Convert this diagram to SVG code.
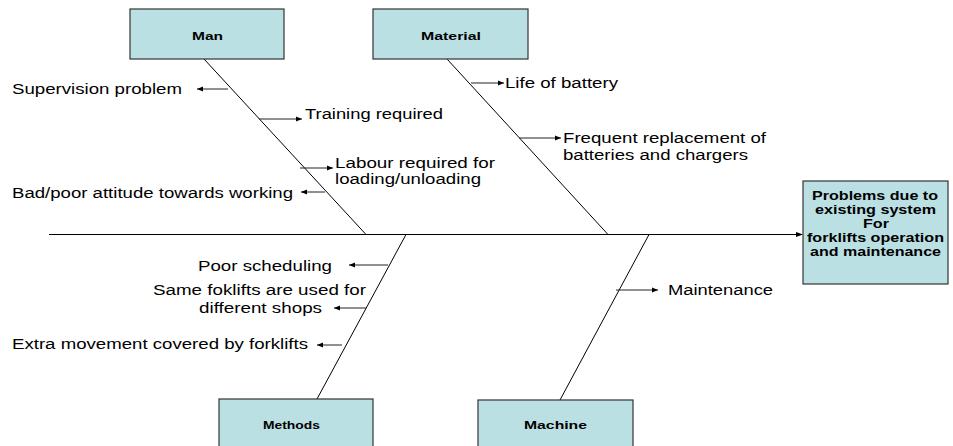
<svg xmlns="http://www.w3.org/2000/svg" width="953" height="446" viewBox="0 0 953 446">
  <style>
    .box { fill: #bbe0e3; stroke: #333333; stroke-width: 1.2; }
    .head { font-family: "Liberation Sans", Arial, sans-serif; font-weight: bold; font-size: 11px; fill: #000; }
    .effect { font-family: "Liberation Sans", Arial, sans-serif; font-weight: bold; font-size: 12px; fill: #000; }
    .cause { font-family: "Liberation Sans", Arial, sans-serif; font-size: 14px; fill: #000; }
    .bone { stroke: #000; stroke-width: 1; fill: none; }
    .rib { stroke: #222; stroke-width: 1; fill: none; marker-end: url(#arrow); }
  </style>
  <defs>
    <marker id="arrow" markerUnits="userSpaceOnUse" markerWidth="8" markerHeight="6" refX="6" refY="3" orient="auto">
      <path d="M0,0.5 L6,3 L0,5.5 Z" fill="#000"/>
    </marker>
  </defs>
  <rect width="953" height="446" fill="#fff"/>

  <!-- main spine, bones and cause arrows -->
  <g id="connectors">
    <line class="bone" x1="49" y1="234.5" x2="796" y2="234.5"/>
    <path d="M796,232 L803,234.5 L796,237 Z" fill="#000"/>
    <line class="bone" x1="204" y1="59" x2="366" y2="234.5"/>
    <line class="bone" x1="447" y1="59" x2="608" y2="234.5"/>
    <line class="bone" x1="406" y1="234.5" x2="317" y2="399"/>
    <line class="bone" x1="649" y1="234.5" x2="560" y2="400"/>

    <line class="rib" x1="228" y1="89" x2="197" y2="89"/>
    <line class="rib" x1="259" y1="119" x2="302" y2="119"/>
    <line class="rib" x1="300" y1="168" x2="333" y2="168"/>
    <line class="rib" x1="325" y1="192" x2="301" y2="192"/>
    <line class="rib" x1="471" y1="83" x2="504" y2="83"/>
    <line class="rib" x1="519" y1="138" x2="561" y2="138"/>
    <line class="rib" x1="388" y1="265" x2="349" y2="265"/>
    <line class="rib" x1="366" y1="308" x2="334" y2="308"/>
    <line class="rib" x1="342" y1="345" x2="317" y2="345"/>
    <line class="rib" x1="616" y1="290" x2="658" y2="290"/>
  </g>

  <g id="man">
    <rect class="box" x="130" y="9" width="154" height="50"/>
    <text class="head" x="192" y="39.5" textLength="31" lengthAdjust="spacingAndGlyphs">Man</text>
  </g>
  <g id="material">
    <rect class="box" x="373" y="9" width="155" height="50"/>
    <text class="head" x="421" y="39.5" textLength="60" lengthAdjust="spacingAndGlyphs">Material</text>
  </g>
  <g id="methods">
    <rect class="box" x="219" y="399" width="154" height="50"/>
    <text class="head" x="263" y="429" textLength="57" lengthAdjust="spacingAndGlyphs">Methods</text>
  </g>
  <g id="machine">
    <rect class="box" x="478" y="400" width="155" height="50"/>
    <text class="head" x="524" y="429" textLength="63" lengthAdjust="spacingAndGlyphs">Machine</text>
  </g>
  <g id="effect">
    <rect class="box" x="803" y="181" width="145" height="103"/>
    <text class="effect" x="812" y="200" textLength="126" lengthAdjust="spacingAndGlyphs">Problems due to</text>
    <text class="effect" x="815" y="214" textLength="121" lengthAdjust="spacingAndGlyphs">existing system</text>
    <text class="effect" x="863" y="228" textLength="26" lengthAdjust="spacingAndGlyphs">For</text>
    <text class="effect" x="807" y="242" textLength="137" lengthAdjust="spacingAndGlyphs">forklifts operation</text>
    <text class="effect" x="810" y="256" textLength="131" lengthAdjust="spacingAndGlyphs">and maintenance</text>
  </g>

  <!-- causes -->
  <g id="cause-supervision"><text class="cause" x="12" y="94" textLength="170" lengthAdjust="spacingAndGlyphs">Supervision problem</text></g>
  <g id="cause-training"><text class="cause" x="305" y="119" textLength="138" lengthAdjust="spacingAndGlyphs">Training required</text></g>
  <g id="cause-labour">
    <text class="cause" x="335" y="168" textLength="160" lengthAdjust="spacingAndGlyphs">Labour required for</text>
    <text class="cause" x="335" y="183.5" textLength="146" lengthAdjust="spacingAndGlyphs">loading/unloading</text>
  </g>
  <g id="cause-attitude"><text class="cause" x="12" y="198" textLength="281" lengthAdjust="spacingAndGlyphs">Bad/poor attitude towards working</text></g>
  <g id="cause-battery-life"><text class="cause" x="505" y="88" textLength="113" lengthAdjust="spacingAndGlyphs">Life of battery</text></g>
  <g id="cause-replacement">
    <text class="cause" x="563" y="143" textLength="203" lengthAdjust="spacingAndGlyphs">Frequent replacement of</text>
    <text class="cause" x="563" y="159.5" textLength="185" lengthAdjust="spacingAndGlyphs">batteries and chargers</text>
  </g>
  <g id="cause-scheduling"><text class="cause" x="198" y="271" textLength="134" lengthAdjust="spacingAndGlyphs">Poor scheduling</text></g>
  <g id="cause-shared">
    <text class="cause" x="153" y="295" textLength="213" lengthAdjust="spacingAndGlyphs">Same foklifts are used for</text>
    <text class="cause" x="199" y="313" textLength="123" lengthAdjust="spacingAndGlyphs">different shops</text>
  </g>
  <g id="cause-movement"><text class="cause" x="12" y="349" textLength="296" lengthAdjust="spacingAndGlyphs">Extra movement covered by forklifts</text></g>
  <g id="cause-maintenance"><text class="cause" x="668" y="295" textLength="105" lengthAdjust="spacingAndGlyphs">Maintenance</text></g>
</svg>
